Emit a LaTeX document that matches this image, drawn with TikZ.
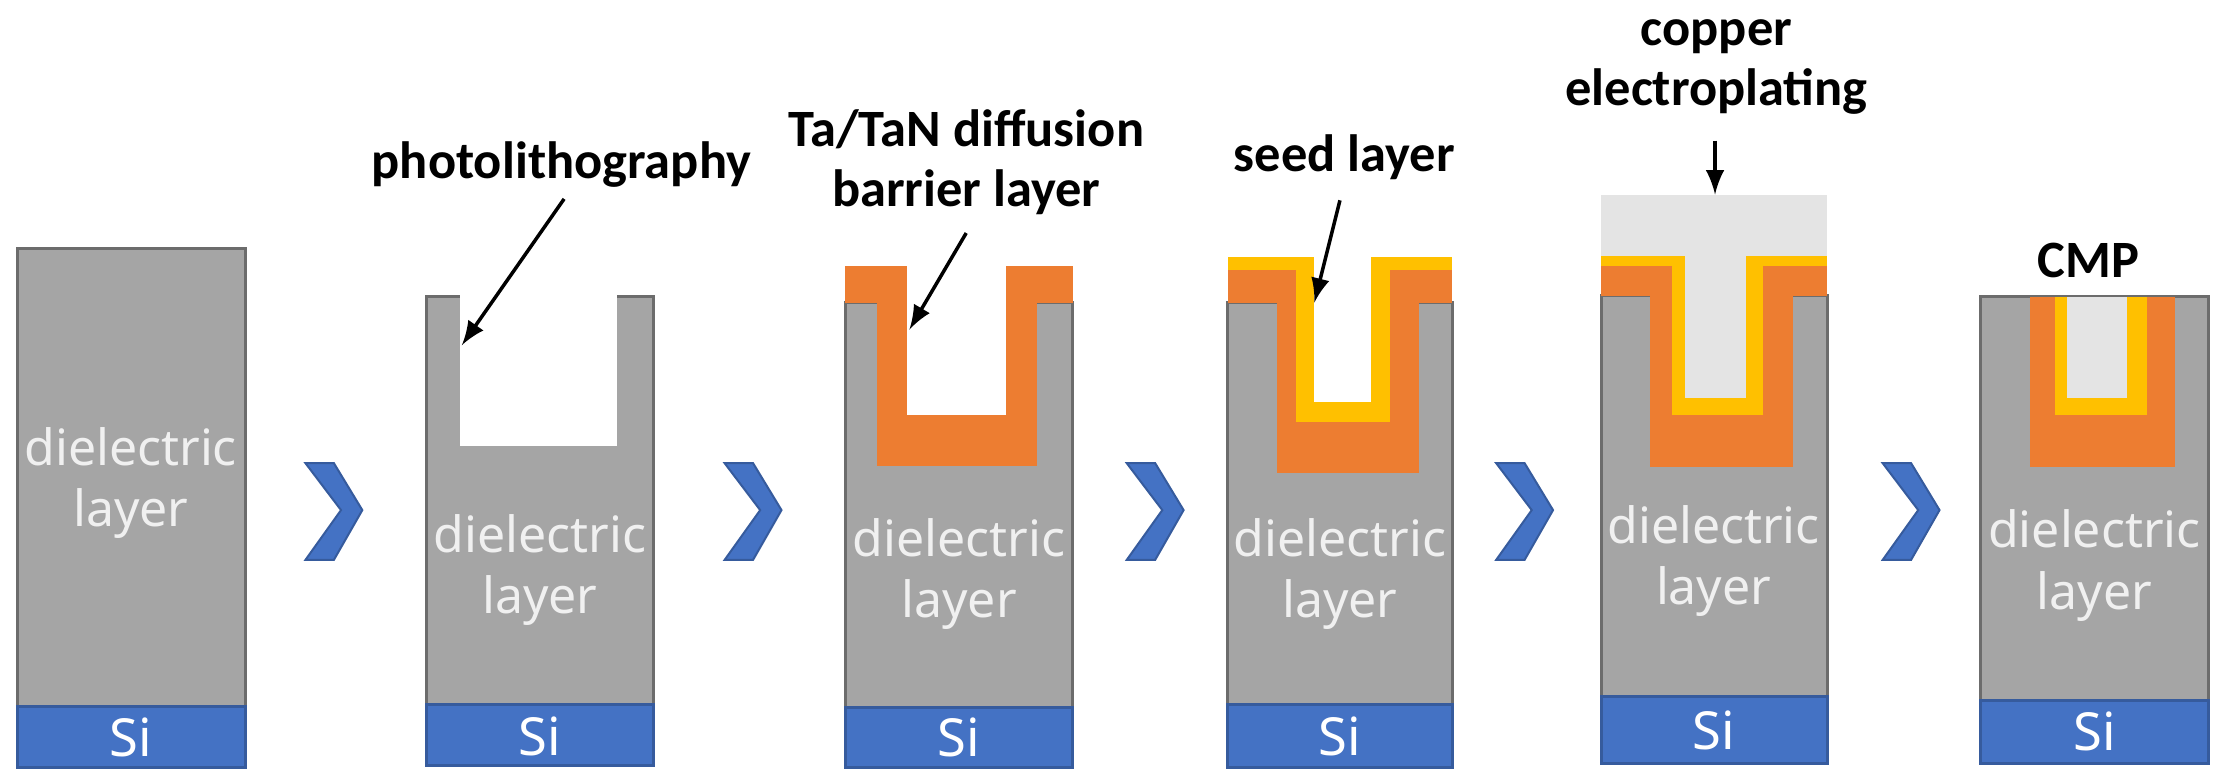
\documentclass[tikz,border=0pt]{standalone}
\usepackage{fontspec}
\setmainfont{Carlito}
\newfontfamily\innerfont{Noto Sans}
\definecolor{dielgray}{HTML}{A5A5A5}
\definecolor{sibl}{HTML}{4472C4}
\definecolor{tan}{HTML}{ED7D31}
\definecolor{seedy}{HTML}{FFC000}
\definecolor{cu}{HTML}{E4E4E4}
\begin{document}
\begin{tikzpicture}[
    x=0.01cm, y=-0.01cm,
    diel/.style={fill=dielgray, draw=gray!85!black, line width=0.6pt},
    si/.style={fill=sibl, draw=sibl!80!black, line width=0.6pt},
    barrier/.style={fill=tan},
    seed/.style={fill=seedy},
    copper/.style={fill=cu},
    hole/.style={fill=white},
    chevron/.style={fill=sibl, draw=sibl!80!black, line width=0.4pt},
    intext/.style={font=\innerfont\fontsize{10}{12.3}\selectfont, text=gray!12, align=center},
    sitext/.style={font=\innerfont\fontsize{10.5}{12}\selectfont, text=white},
    label/.style={font=\bfseries\fontsize{10.5}{12}\selectfont, align=center, inner sep=0pt},
    arrow/.style={-latex, line width=0.7pt}
]
\useasboundingbox (0,0) rectangle (1568,549);

% panel 1
\draw[diel] (12,175) rectangle (173,497);
\draw[si] (12,497) rectangle (173,540);
\node[intext] (d1) at (92,340) {dielectric\\layer};
\node[sitext] (s1) at (92,519) {Si};

% panel 2
\draw[diel] (300,209) rectangle (460,496);
\fill[hole] (324,205) rectangle (434,314);
\draw[si] (300,496) rectangle (460,539);
\node[intext] (d2) at (380,401) {dielectric\\layer};
\node[sitext] (s2) at (380,518) {Si};
\node[label] (photo) at (395,116) {photolithography};
\coordinate (photoend) at (325,243);
\draw[arrow] (397,140) -- (photoend);

% panel 3
\draw[diel] (595,213) rectangle (755,498);
\fill[barrier] (595,187) rectangle (755,213);
\fill[barrier] (617,187) rectangle (730,328);
\fill[hole] (638,180) rectangle (708,292);
\draw[si] (595,498) rectangle (755,540);
\node[intext] (d3) at (675,404) {dielectric\\layer};
\node[sitext] (s3) at (675,519) {Si};
\node[label] (tatan) at (680,114) {Ta/TaN diffusion\\barrier layer};
\coordinate (tatanend) at (640,232);
\draw[arrow] (680,164) -- (tatanend);

% panel 4
\draw[diel] (864,213) rectangle (1022,496);
\fill[barrier] (864,190) rectangle (1022,213);
\fill[barrier] (899,190) rectangle (999,333);
\fill[seed] (864,181) rectangle (1022,190);
\fill[seed] (912,181) rectangle (978,297);
\fill[hole] (925,175) rectangle (965,283);
\draw[si] (864,496) rectangle (1022,540);
\node[intext] (d4) at (943,404) {dielectric\\layer};
\node[sitext] (s4) at (943,518) {Si};
\node[label] (seedlbl) at (946,111) {seed layer};
\coordinate (seedend) at (925,213);
\draw[arrow] (943,141) -- (seedend);

% panel 5
\draw[diel] (1127,208) rectangle (1286,490);
\fill[copper] (1127,137) rectangle (1286,180);
\fill[seed] (1127,180) rectangle (1286,187);
\fill[barrier] (1127,187) rectangle (1286,208);
\fill[barrier] (1161,187) rectangle (1262,329);
\fill[seed] (1177,180) rectangle (1241,292);
\fill[copper] (1186,137) rectangle (1229,280);
\draw[si] (1127,490) rectangle (1286,537);
\node[intext] (d5) at (1206,395) {dielectric\\layer};
\node[sitext] (s5) at (1206,514) {Si};
\node[label] (cuplate) at (1208,47) {copper\\electroplating};
\coordinate (cuend) at (1207,137);
\draw[arrow] (1207,99) -- (cuend);

% panel 6
\draw[diel] (1394,209) rectangle (1554,493);
\fill[barrier] (1429,209) rectangle (1531,329);
\fill[seed] (1446,209) rectangle (1511,292);
\fill[copper] (1455,209) rectangle (1497,280);
\draw[si] (1394,493) rectangle (1554,537);
\node[intext] (d6) at (1474,398) {dielectric\\layer};
\node[sitext] (s6) at (1474,515) {Si};
\node[label] (cmp) at (1470,183) {CMP};

% step chevrons
\foreach \x in {215,510,793,1053,1325}
  \draw[chevron] (\x,326) -- ++(20,0) -- ++(20,33) -- ++(-20,35) -- ++(-20,0) -- ++(25,-35) -- cycle;
\end{tikzpicture}
\end{document}
